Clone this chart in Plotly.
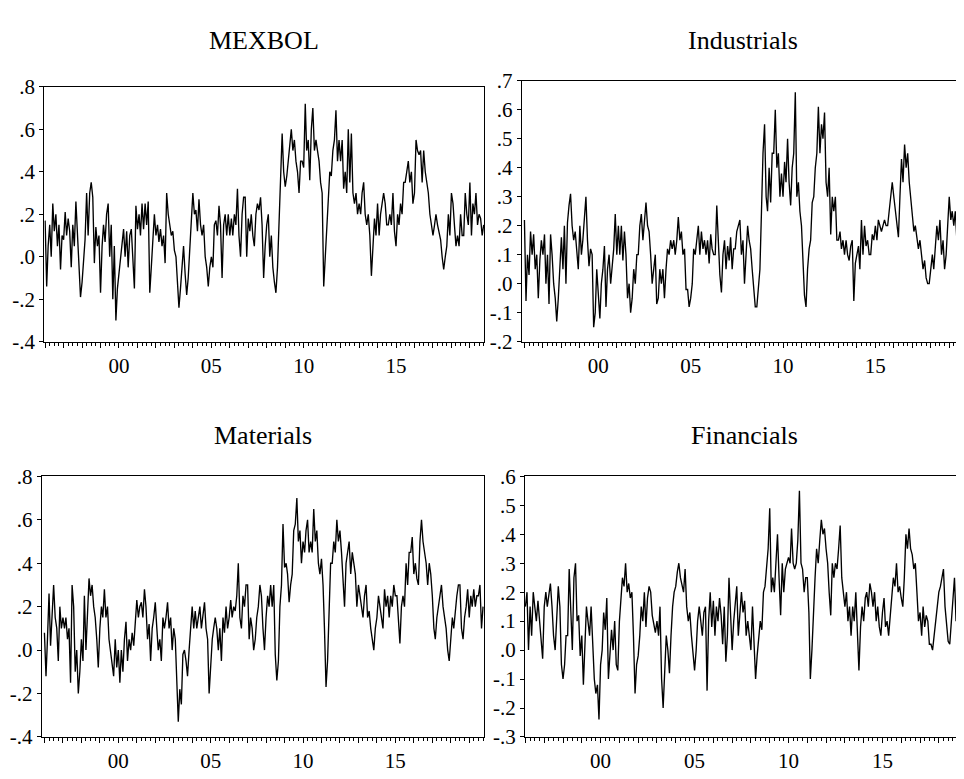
import pandas as pd
import plotly.graph_objects as go

# ---------------- data (monthly, starting Jan 1996) ----------------
START = "1996-01-01"

mexbol = [
    0.17, -0.14, 0.05, 0.15, 0.0, 0.25, 0.12, 0.2, 0.05, 0.15, -0.06, 0.1,
    0.08, 0.21, 0.1, 0.18, 0.12, -0.05, 0.15, 0.05, 0.26, 0.1, -0.1, -0.19,
    -0.12, 0.0, 0.08, 0.3, 0.1, 0.3, 0.35, 0.28, -0.03, 0.14, 0.05, 0.1,
    -0.17, 0.05, 0.15, 0.07, 0.2, 0.25, 0.0, 0.15, -0.2, 0.05, -0.3, -0.15,
    -0.08, 0.0, 0.05, 0.13, 0.0, 0.12, -0.05, 0.1, 0.13, -0.03, -0.15, 0.24,
    0.13, 0.2, 0.1, 0.25, 0.13, 0.25, 0.15, 0.26, -0.17, -0.05, 0.1, 0.2,
    0.1, 0.15, 0.07, 0.13, 0.05, 0.1, -0.03, 0.3, 0.2, 0.15, 0.1, 0.12,
    0.03, 0.0, -0.1, -0.24, -0.15, -0.05, 0.05, -0.08, -0.18, -0.1, 0.05, 0.15,
    0.3, 0.2, 0.22, 0.12, 0.27, 0.15, 0.1, 0.15, 0.0, -0.05, -0.14, -0.05,
    0.0, -0.05, 0.15, 0.17, 0.1, 0.24, 0.15, -0.1, 0.15, 0.2, 0.1, 0.2,
    0.1, 0.18, 0.1, 0.2, 0.15, 0.32, 0.1, 0.0, 0.2, 0.28, 0.28, 0.0,
    0.18, 0.12, 0.2, 0.1, 0.05, 0.2, 0.25, 0.22, 0.28, 0.15, -0.1, 0.05,
    0.15, 0.2, 0.0, 0.1, -0.05, -0.12, -0.17, -0.05, 0.2, 0.35, 0.58, 0.4,
    0.33, 0.38, 0.45, 0.5, 0.6, 0.5, 0.55, 0.45, 0.4, 0.3, 0.45, 0.45,
    0.42, 0.72, 0.5, 0.55, 0.36, 0.6, 0.7, 0.5, 0.55, 0.5, 0.45, 0.35,
    0.3, -0.14, 0.0, 0.15, 0.3, 0.4, 0.38, 0.5, 0.55, 0.69, 0.45, 0.55,
    0.45, 0.55, 0.32, 0.4, 0.3, 0.6, 0.35, 0.58, 0.3, 0.25, 0.3, 0.2,
    0.25, 0.2, 0.3, 0.35, 0.2, 0.15, 0.2, 0.1, -0.09, 0.05, 0.18, 0.1,
    0.25, 0.1, 0.2, 0.25, 0.3, 0.25, 0.15, 0.15, 0.2, 0.15, 0.3, 0.12,
    0.05, 0.2, 0.15, 0.25, 0.2, 0.35, 0.35, 0.4, 0.45, 0.35, 0.4, 0.25,
    0.3, 0.55, 0.5, 0.48, 0.5, 0.35, 0.5, 0.4, 0.35, 0.3, 0.2, 0.15,
    0.1, 0.15, 0.2, 0.15, 0.12, 0.08, 0.0, -0.06, 0.0, 0.05, 0.2, 0.1,
    0.3, 0.25, 0.15, 0.05, 0.1, 0.05, 0.2, 0.1, 0.1, 0.3, 0.2, 0.15,
    0.35, 0.1, 0.25, 0.2, 0.3, 0.15, 0.2, 0.18, 0.1, 0.15,
]

industrials = [
    0.22, -0.06, 0.1, 0.03, 0.18, 0.1, 0.17, 0.05, 0.1, -0.05, 0.08, 0.15,
    0.1, 0.17, 0.0, 0.1, -0.07, 0.17, 0.1, 0.0, -0.05, -0.13, -0.05, 0.05,
    0.16, 0.05, 0.2, 0.0, 0.21, 0.27, 0.31, 0.2, 0.15, 0.18, 0.1, 0.05,
    0.2, 0.1, 0.15, 0.22, 0.3, 0.15, 0.06, 0.12, 0.1, -0.15, -0.1, 0.05,
    -0.02, -0.12, 0.0, 0.05, 0.13, -0.08, 0.05, 0.1, 0.0, 0.05, 0.12, 0.24,
    0.1, 0.2, 0.1, 0.2, 0.08, 0.18, 0.1, -0.05, 0.0, -0.1, -0.05, 0.05,
    0.0, 0.1, 0.1, 0.2, 0.24, 0.15, 0.22, 0.28, 0.2, 0.18, 0.1, 0.0,
    0.05, 0.1, -0.07, -0.05, 0.05, 0.0, 0.05, -0.05, 0.05, 0.12, 0.1, 0.15,
    0.12, 0.15, 0.1, 0.15, 0.23, 0.15, 0.18, 0.1, 0.12, -0.02, -0.02, -0.08,
    -0.05, 0.0, 0.12, 0.1, 0.15, 0.2, 0.1, 0.18, 0.12, 0.15, 0.1, 0.15,
    0.07, 0.17, 0.12, 0.1, 0.1, 0.27, 0.15, 0.03, -0.03, 0.1, 0.15, 0.05,
    0.13, 0.08, 0.16, 0.05, 0.12, 0.12, 0.18, 0.2, 0.22, 0.1, 0.15, 0.0,
    0.12, 0.2, 0.15, 0.12, 0.05, -0.02, -0.08, -0.08, -0.02, 0.05, 0.25, 0.45,
    0.55, 0.3, 0.25, 0.4, 0.28, 0.45, 0.45, 0.6, 0.4, 0.45, 0.3, 0.38,
    0.3, 0.42, 0.35, 0.5, 0.35, 0.27, 0.4, 0.45, 0.66, 0.3, 0.35, 0.25,
    0.2, 0.05, -0.04, -0.08, 0.05, 0.12, 0.15, 0.28, 0.3, 0.4, 0.45, 0.61,
    0.45, 0.55, 0.5, 0.59, 0.35, 0.3, 0.4, 0.17, 0.3, 0.25, 0.3, 0.15,
    0.15, 0.18, 0.12, 0.15, 0.1, 0.15, 0.1, 0.08, 0.13, 0.15, -0.06, 0.07,
    0.1, 0.13, 0.05, 0.22, 0.1, 0.2, 0.13, 0.15, 0.1, 0.1, 0.17, 0.15,
    0.2, 0.15, 0.22, 0.2, 0.18, 0.2, 0.22, 0.2, 0.2, 0.25, 0.3, 0.35,
    0.3, 0.25, 0.2, 0.16, 0.3, 0.43, 0.35, 0.48, 0.4, 0.45, 0.35, 0.3,
    0.25, 0.18, 0.2, 0.15, 0.12, 0.15, 0.1, 0.05, 0.08, 0.02, 0.0, 0.0,
    0.05, 0.1, 0.05, 0.15, 0.2, 0.15, 0.22, 0.1, 0.15, 0.05, 0.1, 0.2,
    0.3, 0.22, 0.25, 0.2, 0.25, 0.15, 0.2, 0.1, 0.15, 0.08,
]

materials = [
    0.08, -0.12, 0.05, 0.26, 0.02, 0.2, 0.3, 0.15, 0.1, -0.05, 0.2, 0.1,
    0.15, 0.1, 0.15, 0.05, 0.1, -0.15, 0.3, 0.2, -0.1, 0.0, -0.2, -0.1,
    0.05, -0.05, 0.25, 0.0, 0.2, 0.33, 0.25, 0.3, 0.2, 0.15, 0.05, -0.08,
    0.1, 0.2, 0.15, 0.28, 0.15, 0.2, 0.05, 0.0, -0.05, -0.12, 0.05, -0.08,
    0.0, -0.15, 0.0, -0.1, 0.05, 0.13, -0.05, 0.05, 0.0, 0.08, 0.02, 0.12,
    0.23, 0.15, 0.2, 0.22, 0.15, 0.28, 0.2, 0.05, 0.12, -0.05, 0.1, 0.15,
    0.22, 0.1, 0.0, 0.05, -0.05, 0.15, 0.1, 0.15, 0.22, 0.1, 0.15, 0.0,
    0.1, 0.05, -0.15, -0.33, -0.18, -0.25, -0.02, 0.0, -0.05, -0.12, 0.0, 0.12,
    0.2, 0.1, 0.18, 0.1, 0.15, 0.2, 0.1, 0.15, 0.22, 0.1, 0.05, -0.2,
    -0.05, 0.05, 0.1, 0.15, 0.1, 0.0, 0.1, -0.05, 0.15, 0.08, 0.2, 0.1,
    0.15, 0.23, 0.15, 0.2, 0.18, 0.25, 0.4, 0.15, 0.1, 0.25, 0.2, 0.3,
    0.3, 0.05, 0.15, 0.1, 0.0, 0.05, 0.15, 0.2, 0.3, 0.25, 0.1, 0.0,
    0.15, 0.25, 0.2, 0.3, 0.2, 0.3, -0.02, -0.14, -0.05, 0.2, 0.3, 0.58,
    0.38, 0.4, 0.35, 0.22, 0.3, 0.35, 0.55, 0.58, 0.7, 0.5, 0.55, 0.4,
    0.5, 0.45, 0.55, 0.6, 0.45, 0.5, 0.45, 0.65, 0.5, 0.55, 0.4, 0.35,
    0.42, 0.3, 0.1, -0.17, -0.05, 0.2, 0.4, 0.4, 0.5, 0.45, 0.6, 0.5,
    0.55, 0.45, 0.35, 0.2, 0.4, 0.45, 0.5, 0.35, 0.45, 0.4, 0.35, 0.2,
    0.3, 0.25, 0.2, 0.15, 0.25, 0.3, 0.15, 0.18, 0.1, 0.05, 0.0, 0.1,
    0.15, 0.25, 0.2, 0.15, 0.1, 0.28, 0.2, 0.25, 0.15, 0.25, 0.2, 0.3,
    0.25, 0.25, 0.15, 0.03, 0.2, 0.25, 0.2, 0.4, 0.3, 0.45, 0.45, 0.52,
    0.35, 0.4, 0.33, 0.3, 0.5, 0.6, 0.5, 0.45, 0.4, 0.3, 0.4, 0.35,
    0.25, 0.1, 0.05, 0.15, 0.2, 0.25, 0.3, 0.2, 0.15, 0.1, 0.0, -0.05,
    0.05, 0.15, 0.1, 0.2, 0.25, 0.3, 0.3, 0.1, 0.05, 0.15, 0.2, 0.28,
    0.15, 0.25, 0.2, 0.28, 0.2, 0.25, 0.25, 0.3, 0.1, 0.2,
]

financials = [
    0.15, 0.2, 0.0, 0.15, 0.05, 0.2, 0.15, 0.1, 0.17, 0.1, 0.05, -0.03,
    0.15, 0.2, 0.15, 0.2, 0.23, 0.15, 0.05, 0.0, 0.1, 0.22, 0.15, -0.05,
    -0.1, -0.05, 0.05, 0.05, 0.28, 0.1, 0.0, 0.25, 0.3, 0.1, 0.12, -0.02,
    0.05, -0.12, 0.0, 0.15, 0.1, 0.05, 0.15, 0.0, -0.1, -0.15, -0.12, -0.24,
    -0.05, 0.0, 0.13, 0.07, 0.18, -0.1, 0.0, 0.07, 0.0, 0.1, -0.05, -0.07,
    0.1, 0.2, 0.25, 0.22, 0.3, 0.2, 0.23, 0.18, 0.2, 0.05, -0.15, -0.05,
    -0.02, 0.05, 0.15, 0.1, 0.2, 0.08, 0.18, 0.22, 0.2, 0.12, 0.08, 0.06,
    0.1, 0.05, 0.15, -0.1, -0.2, -0.05, 0.05, 0.0, -0.08, 0.05, 0.15, 0.2,
    0.22, 0.27, 0.3, 0.25, 0.23, 0.2, 0.28, 0.15, 0.1, 0.13, 0.05, 0.0,
    -0.07, 0.0, 0.1, 0.15, 0.1, 0.05, 0.13, 0.15, -0.14, 0.1, 0.2, 0.08,
    0.17, 0.05, 0.15, 0.1, 0.18, 0.12, 0.02, 0.15, -0.04, 0.05, 0.25, 0.1,
    0.0, 0.1, 0.15, 0.22, 0.05, 0.15, 0.2, 0.13, 0.17, 0.05, 0.1, 0.05,
    0.0, 0.15, 0.05, -0.1, -0.02, 0.05, 0.1, 0.07, 0.2, 0.22, 0.3, 0.35,
    0.49, 0.2, 0.25, 0.2, 0.3, 0.4, 0.25, 0.12, 0.3, 0.2, 0.28, 0.3,
    0.32, 0.3, 0.42, 0.3, 0.28, 0.3, 0.38, 0.55, 0.3, 0.28, 0.2, 0.25,
    0.25, 0.13, -0.1, 0.0, 0.15, 0.25, 0.35, 0.3, 0.38, 0.45, 0.4, 0.42,
    0.35, 0.3, 0.2, 0.12, 0.3, 0.25, 0.3, 0.28, 0.35, 0.43, 0.25, 0.2,
    0.15, 0.2, 0.1, 0.15, 0.05, 0.15, 0.1, 0.2, 0.08, -0.07, 0.08, 0.15,
    0.1, 0.18, 0.2, 0.15, 0.23, 0.2, 0.15, 0.2, 0.1, 0.15, 0.08, 0.05,
    0.13, 0.18, 0.08, 0.1, 0.05, 0.12, 0.2, 0.25, 0.22, 0.3, 0.2, 0.22,
    0.18, 0.15, 0.25, 0.4, 0.35, 0.42, 0.35, 0.33, 0.28, 0.3, 0.2, 0.1,
    0.13, 0.05, 0.15, 0.08, 0.12, 0.1, 0.02, 0.02, 0.0, 0.05, 0.08, 0.15,
    0.2, 0.22, 0.25, 0.28, 0.15, 0.1, 0.03, 0.02, 0.1, 0.15, 0.25, 0.1,
    0.2, 0.12, 0.05, 0.15, 0.12, 0.15,
]

titles = ["MEXBOL", "Industrials", "Materials", "Financials"]
series = [mexbol, industrials, materials, financials]
y_ranges = [(-0.4, 0.8), (-0.2, 0.7), (-0.4, 0.8), (-0.3, 0.6)]
y_steps = [0.2, 0.1, 0.2, 0.1]
x_labels = {2000: "00", 2005: "05", 2010: "10", 2015: "15"}

# ---------------- layout geometry (page pixels) ----------------
PAGE_W, PAGE_H = 964, 779
OFF = 8                      # default body margin of the html page
W, H = PAGE_W - OFF, PAGE_H - OFF
# (left, right, top, bottom) of each plot box in page pixels
boxes = [(44.3, 484.0, 77.0, 340.0),
         (521.7, 964.0, 70.7, 340.0),
         (41.7, 484.3, 479.0, 748.0),
         (525.0, 964.0, 479.0, 748.0)]
# visible time span of each panel (decimal years)
x_spans = [(1995.956, 2019.764), (1995.853, 2019.80),
           (1995.853, 2019.816), (1995.98, 2019.34)]
title_y_px = [29, 29, 437, 437]


def px_x(p):
    return min(max((p - OFF) / W, 0.0), 1.0)


def px_y(p):
    return min(max(1 - (p - OFF) / H, 0.0), 1.0)


def dec_to_date(y):
    yr = int(y)
    frac = y - yr
    return (pd.Timestamp(year=yr, month=1, day=1) + pd.Timedelta(days=frac * 365.25)).strftime("%Y-%m-%d")


def fmt(v):
    s = "%.1f" % abs(v)
    return ("-" if v < -1e-9 else "") + s[1:]


FONT = "Liberation Serif, Times New Roman, serif"
fig = go.Figure()
year_ticks = [f"{y}-01-01" for y in range(1996, 2020)]
year_text = [x_labels.get(y, "") for y in range(1996, 2020)]

for k in range(4):
    vals = series[k]
    dates = pd.date_range(START, periods=len(vals), freq="MS")
    xa = "x" if k == 0 else f"x{k+1}"
    ya = "y" if k == 0 else f"y{k+1}"
    fig.add_trace(go.Scatter(x=dates, y=vals, mode="lines",
                             line=dict(color="black", width=1.35),
                             xaxis=xa, yaxis=ya, showlegend=False,
                             hoverinfo="skip"))
    l, r, t, b = boxes[k]
    lo, hi = y_ranges[k]
    n = int(round((hi - lo) / y_steps[k]))
    yt = [round(lo + i * y_steps[k], 2) for i in range(n + 1)]
    right_edge = r >= PAGE_W - 0.5
    xkey = "xaxis" if k == 0 else f"xaxis{k+1}"
    ykey = "yaxis" if k == 0 else f"yaxis{k+1}"
    fig.layout[xkey] = dict(
        domain=[px_x(l), px_x(r)], anchor=ya,
        type="date", range=[dec_to_date(x_spans[k][0]), dec_to_date(x_spans[k][1])],
        showgrid=False, zeroline=False,
        showline=True, linecolor="black", linewidth=1, mirror=True,
        tickmode="array", tickvals=year_ticks, ticktext=year_text,
        ticks="outside", ticklen=5, tickcolor="black", tickwidth=1,
        minor=dict(ticks="outside", ticklen=3, dtick="M3", tick0="1996-01-01",
                   tickcolor="black", showgrid=False),
        tickfont=dict(family=FONT, size=21, color="black"),
        fixedrange=True,
    )
    fig.layout[ykey] = dict(
        domain=[px_y(b), px_y(t)], anchor=xa,
        range=[lo, hi], showgrid=False, zeroline=False,
        showline=True, linecolor="black", linewidth=1,
        mirror=(False if right_edge else True),
        tickmode="array", tickvals=yt, ticktext=[fmt(v) for v in yt],
        ticks="outside", ticklen=4, tickcolor="black", tickwidth=1,
        tickfont=dict(family=FONT, size=21, color="black"),
        fixedrange=True,
    )
    fig.add_annotation(text=titles[k], xref="paper", yref="paper",
                       x=(px_x(l) + px_x(r)) / 2, y=px_y(title_y_px[k]),
                       xanchor="center", yanchor="middle", showarrow=False,
                       font=dict(family=FONT, size=26, color="black"))

fig.update_layout(width=W, height=H, margin=dict(l=0, r=0, t=0, b=0),
                  paper_bgcolor="white", plot_bgcolor="white")

fig.write_html("out.html")
